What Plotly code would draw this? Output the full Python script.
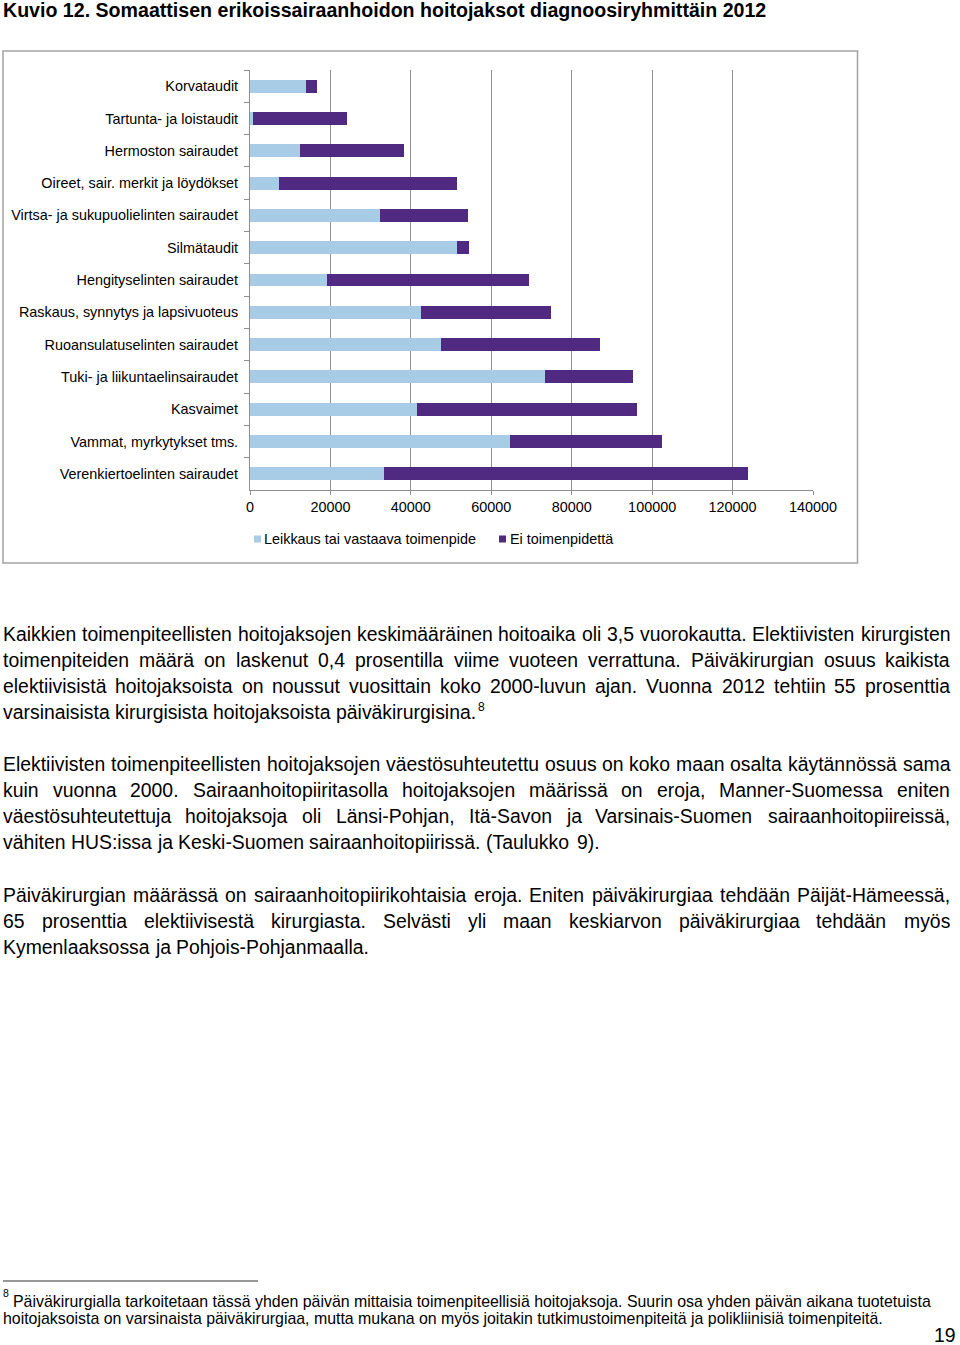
import plotly.graph_objects as go

# ---------------- data ----------------
categories = [
    "Korvataudit",
    "Tartunta- ja loistaudit",
    "Hermoston sairaudet",
    "Oireet, sair. merkit ja löydökset",
    "Virtsa- ja sukupuolielinten sairaudet",
    "Silmätaudit",
    "Hengityselinten sairaudet",
    "Raskaus, synnytys ja lapsivuoteus",
    "Ruoansulatuselinten sairaudet",
    "Tuki- ja liikuntaelinsairaudet",
    "Kasvaimet",
    "Vammat, myrkytykset tms.",
    "Verenkiertoelinten sairaudet",
]
leikkaus = [14000, 700, 12400, 7200, 32400, 51500, 19200, 42500, 47400, 73400, 41500, 64600, 33400]
ei_toimenpidetta = [2700, 23400, 25800, 44200, 21900, 3000, 50300, 32300, 39600, 21800, 54800, 37900, 90400]
series_names = ["Leikkaus tai vastaava toimenpide", "Ei toimenpidettä"]
x_ticks = [0, 20000, 40000, 60000, 80000, 100000, 120000, 140000]
x_ticklabels = ["0", "20000", "40000", "60000", "80000", "100000", "120000", "140000"]

title = "Kuvio 12. Somaattisen erikoissairaanhoidon hoitojaksot diagnoosiryhmittäin 2012"
paragraphs = [
    ["Kaikkien toimenpiteellisten hoitojaksojen keskimääräinen hoitoaika oli 3,5 vuorokautta. Elektiivisten kirurgisten",
     "toimenpiteiden määrä on laskenut 0,4 prosentilla viime vuoteen verrattuna. Päiväkirurgian osuus kaikista",
     "elektiivisistä hoitojaksoista on noussut vuosittain koko 2000-luvun ajan. Vuonna 2012 tehtiin 55 prosenttia",
     "varsinaisista kirurgisista hoitojaksoista päiväkirurgisina."],
    ["Elektiivisten toimenpiteellisten hoitojaksojen väestösuhteutettu osuus on koko maan osalta käytännössä sama",
     "kuin vuonna 2000. Sairaanhoitopiiritasolla hoitojaksojen määrissä on eroja, Manner-Suomessa eniten",
     "väestösuhteutettuja hoitojaksoja oli Länsi-Pohjan, Itä-Savon ja Varsinais-Suomen sairaanhoitopiireissä,",
     "vähiten HUS:issa ja Keski-Suomen sairaanhoitopiirissä. (Taulukko 9)."],
    ["Päiväkirurgian määrässä on sairaanhoitopiirikohtaisia eroja. Eniten päiväkirurgiaa tehdään Päijät-Hämeessä,",
     "65 prosenttia elektiivisestä kirurgiasta. Selvästi yli maan keskiarvon päiväkirurgiaa tehdään myös",
     "Kymenlaaksossa ja Pohjois-Pohjanmaalla."],
]
footnote = [
    "Päiväkirurgialla tarkoitetaan tässä yhden päivän mittaisia toimenpiteellisiä hoitojaksoja. Suurin osa yhden päivän aikana tuotetuista",
    "hoitojaksoista on varsinaista päiväkirurgiaa, mutta mukana on myös joitakin tutkimustoimenpiteitä ja polikliinisiä toimenpiteitä.",
]
page_number = "19"

# ---------------- styling / layout ----------------
LIGHT = "#A9CCE6"
DARK = "#4F2A80"
GRID = "#8F8F8F"
FONT = "Liberation Sans, Arial, sans-serif"
W, H = 960, 1345
L, R, T, B = 250, 147, 70, 855
PW = W - L - R
PH = H - T - B


def px(x):
    return (x - L) / PW


def py(y):
    return (H - B - y) / PH


# Arial / Liberation Sans advance widths (per 1000 em)
AW = {' ': 278, ',': 278, '.': 278, ':': 278, '-': 333, '(': 333, ')': 333}
for c in "0123456789":
    AW[c] = 556
AW.update(dict(zip("ABCDEFGHIJKLMNOPQRSTUVWXYZ",
                   [667, 667, 722, 722, 667, 611, 778, 722, 278, 500, 667, 556, 833,
                    722, 778, 667, 778, 722, 667, 611, 722, 667, 944, 667, 667, 611])))
AW.update(dict(zip("abcdefghijklmnopqrstuvwxyz",
                   [556, 556, 500, 556, 556, 278, 556, 556, 222, 222, 500, 222, 833,
                    556, 556, 556, 556, 333, 500, 278, 556, 500, 722, 500, 500, 500])))
AW.update({'ä': 556, 'ö': 556, 'å': 556, 'Ä': 667, 'Ö': 778, 'Å': 667})


def text_w(s, fs):
    return sum(AW.get(c, 556) for c in s) / 1000.0 * fs


fig = go.Figure()
fig.add_bar(y=categories, x=leikkaus, orientation="h", name=series_names[0],
            marker=dict(color=LIGHT, line=dict(width=0)))
fig.add_bar(y=categories, x=ei_toimenpidetta, orientation="h", name=series_names[1],
            marker=dict(color=DARK, line=dict(width=0)))

annotations = []
shapes = []


def add_text(s, x, base, fs, anchor="left", bold=False):
    annotations.append(dict(
        text=("<b>%s</b>" % s) if bold else s,
        x=px(x), y=py(base - 0.35 * fs), xref="paper", yref="paper",
        xanchor=anchor, yanchor="middle", showarrow=False,
        borderpad=0, borderwidth=0,
        font=dict(size=fs, color="black", family=FONT)))


def add_line(s, x0, x1, base, fs, justify):
    words = s.split(" ")
    widths = [text_w(w, fs) for w in words]
    if justify and len(words) > 1:
        gap = (x1 - x0 - sum(widths)) / (len(words) - 1)
    else:
        gap = AW[' '] / 1000.0 * fs
    x = x0
    for w, wd in zip(words, widths):
        add_text(w, x, base, fs)
        x += wd + gap
    return x - gap


BODY = 19.4
add_text(title, 3, 16.7, 19.6, bold=True)

para_bases = [[640.7, 666.7, 692.7, 718.7],
              [771.2, 797.2, 823.2, 849.2],
              [901.7, 927.7, 953.7]]
for lines, bases in zip(paragraphs, para_bases):
    for i, (ln, b) in enumerate(zip(lines, bases)):
        last = i == len(lines) - 1
        end = add_line(ln, 3, 950, b, BODY, not last)
        if lines is paragraphs[0] and last:
            add_text("8", end + 1.5, 711.5, 12)

# footnote
shapes.append(dict(type="line", xref="paper", yref="paper", x0=px(3), x1=px(258),
                   y0=py(1281), y1=py(1281), line=dict(color="#333333", width=1.2)))
add_text("8", 3, 1296.5, 10.5)
add_text(footnote[0], 13, 1307, 15.9)
add_text(footnote[1], 3, 1324.5, 15.9)
add_text(page_number, 956, 1342, BODY, anchor="right")

# chart frame
shapes.append(dict(type="rect", xref="paper", yref="paper", x0=px(3), x1=px(857.5),
                   y0=py(563), y1=py(51), line=dict(color="#A3A3A3", width=1.5),
                   fillcolor="rgba(0,0,0,0)", layer="below"))

# custom legend
LEG_FS = 14.4
for (sx, tx, col, nm) in [(254, 264, LIGHT, series_names[0]), (499, 510, DARK, series_names[1])]:
    shapes.append(dict(type="rect", xref="paper", yref="paper", x0=px(sx), x1=px(sx + 7),
                       y0=py(542.5), y1=py(535.5), fillcolor=col, line=dict(width=0)))
    add_text(nm, tx, 539 + 0.35 * LEG_FS, LEG_FS)

fig.update_layout(
    width=W, height=H,
    margin=dict(l=L, r=R, t=T, b=B, pad=0),
    paper_bgcolor="white", plot_bgcolor="white",
    barmode="stack", bargap=0.6,
    showlegend=False,
    font=dict(family=FONT, size=LEG_FS, color="black"),
    xaxis=dict(range=[0, 140000], tickvals=x_ticks, ticktext=x_ticklabels,
               showgrid=True, gridcolor=GRID, gridwidth=1,
               showline=True, linecolor=GRID, linewidth=1,
               ticks="outside", ticklen=4, tickcolor=GRID,
               zeroline=False, tickfont=dict(size=LEG_FS, color="black"),
               fixedrange=True),
    yaxis=dict(autorange="reversed", showgrid=False,
               showline=True, linecolor=GRID, linewidth=1,
               ticks="outside", tickson="boundaries", ticklen=5, tickcolor=GRID,
               ticklabelstandoff=8,
               tickfont=dict(size=LEG_FS, color="black"), fixedrange=True),
    annotations=annotations,
    shapes=shapes,
)

fig.write_html("out.html", config={"displayModeBar": False})
